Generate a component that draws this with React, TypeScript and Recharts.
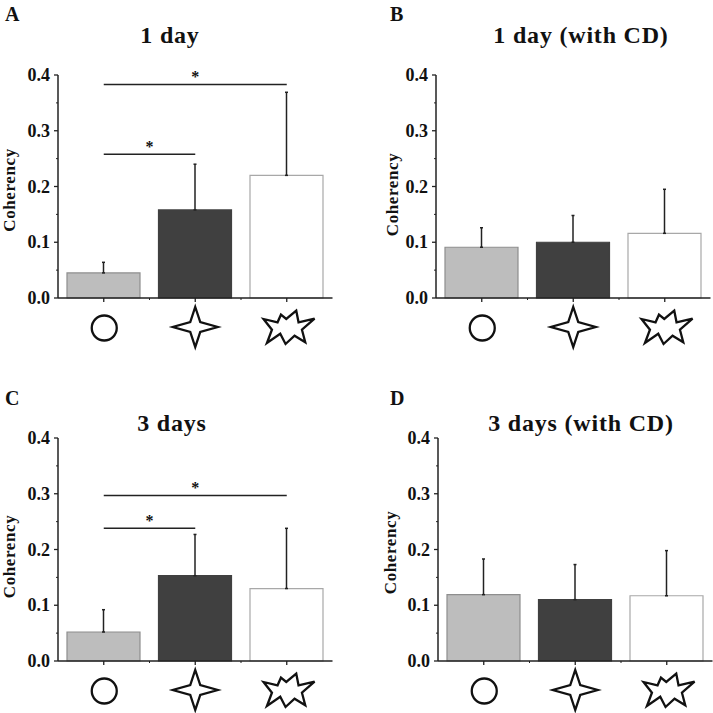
import { Bar, BarChart, Cell, ErrorBar, ReferenceLine, XAxis, YAxis } from 'recharts';

const categories = ['circle', 'star', 'burst'];
const yTicks = [0, 0.05, 0.1, 0.15, 0.2, 0.25, 0.3, 0.35, 0.4];

const means1Day = [0.045, 0.158, 0.22];
const errs1Day = [0.019, 0.082, 0.149];
const means1DayCD = [0.091, 0.1, 0.116];
const errs1DayCD = [0.035, 0.048, 0.079];
const means3Days = [0.052, 0.153, 0.13];
const errs3Days = [0.04, 0.074, 0.108];
const means3DaysCD = [0.119, 0.11, 0.117];
const errs3DaysCD = [0.064, 0.063, 0.081];

const barFills = ['#bdbdbd', '#404040', '#ffffff'];
const barStrokes = ['#8e8e8e', '#404040', '#a8a8a8'];

const SERIF = '"Liberation Serif", serif';
const INK = '#222222';

const STAR = '0,-20 5,-5 22.5,0 5,5 0,20 -5,5 -22.5,0 -5,-5';
const BURST =
  '-23.2,21 -9.2,24.3 -5.8,16.7 -0.5,21 9.5,12.7 11.8,24.3 27.8,20.7 15.2,31.7 18.5,44.3 7.8,37.7 -1.2,46 -6.5,35.7 -19.8,45 -14.8,31.7';

const CategoryTick = ({ x, y, index, payload }: any) => (
  <g>
    <line x1={x} x2={x} y1={y} y2={y + 4} stroke={INK} strokeWidth={1.3} />
    {index < 2 && <line x1={x + 45.75} x2={x + 45.75} y1={y} y2={y + 2} stroke={INK} strokeWidth={1} />}
    <g fill="#fff" stroke="#111" strokeWidth={2.3}>
      {payload.value === 'circle' && <circle cx={x + 0.5} cy={y + 30} r={12.5} />}
      {payload.value === 'star' && <polygon points={STAR} transform={`translate(${x},${y + 29})`} />}
      {payload.value === 'burst' && <polygon points={BURST} transform={`translate(${x},${y})`} />}
    </g>
  </g>
);

const ValueTick = ({ x, y, payload }: any) => {
  const major = Math.round(payload.value * 100) % 10 === 0;
  return (
    <g>
      <line x1={x - (major ? 4 : 2)} x2={x} y1={y} y2={y} stroke={INK} strokeWidth={major ? 1.3 : 1} />
      {major && (
        <text x={x - 8} y={y + 6} textAnchor="end" fontFamily={SERIF} fontWeight="bold" fontSize={18} fill="#111">
          {payload.value.toFixed(1)}
        </text>
      )}
    </g>
  );
};

interface PanelProps {
  letter: string;
  letterLeft: number;
  letterTop: number;
  title: string;
  titleCenter: number;
  titleTop: number;
  left: number;
  top: number;
  labelX: number;
  labelY: number;
  means: number[];
  errs: number[];
  brackets?: { from: string; to: string; y: number }[];
}

const Panel = (p: PanelProps) => {
  const rows = categories.map((name, i) => ({ name, value: p.means[i], err: [0, p.errs[i]] }));
  return (
    <>
      <div style={{ position: 'absolute', left: p.letterLeft, top: p.letterTop, font: `bold 20px ${SERIF}`, color: '#111' }}>
        {p.letter}
      </div>
      <div
        style={{
          position: 'absolute',
          left: p.titleCenter - 150,
          width: 300,
          top: p.titleTop,
          textAlign: 'center',
          font: `bold 24px ${SERIF}`,
          letterSpacing: 0.8,
          color: '#111'
        }}
      >
        {p.title}
      </div>
      <div style={{ position: 'absolute', left: p.left, top: p.top }}>
        <BarChart
          width={334}
          height={356}
          data={rows}
          barSize={73}
          margin={{ top: 75, right: 1.5, bottom: 0, left: 0 }}
        >
          <XAxis
            dataKey="name"
            height={58}
            interval={0}
            tickSize={0}
            tickMargin={0}
            axisLine={{ stroke: INK, strokeWidth: 1.5 }}
            tickLine={false}
            tick={<CategoryTick />}
          />
          <YAxis
            width={58}
            domain={[0, 0.4]}
            ticks={yTicks}
            interval={0}
            tickSize={0}
            tickMargin={0}
            axisLine={{ stroke: INK, strokeWidth: 1.5 }}
            tickLine={false}
            tick={<ValueTick />}
            label={{
              value: 'Coherency',
              angle: -90,
              position: 'insideLeft',
              dx: p.labelX,
              dy: p.labelY,
              style: { fontFamily: SERIF, fontWeight: 'bold', fontSize: 17, letterSpacing: 0.6, fill: '#111', textAnchor: 'middle' }
            }}
          />
          <Bar dataKey="value" strokeWidth={1.2} isAnimationActive={false}>
            {rows.map((_, i) => (
              <Cell key={i} fill={barFills[i]} stroke={barStrokes[i]} />
            ))}
            <ErrorBar dataKey="err" direction="y" width={1.5} stroke={INK} strokeWidth={1.5} isAnimationActive={false} />
          </Bar>
          {(p.brackets || []).map((b, i) => (
            <ReferenceLine
              key={i}
              segment={[
                { x: b.from, y: b.y },
                { x: b.to, y: b.y }
              ]}
              stroke={INK}
              strokeWidth={1.5}
              label={{ value: '*', position: 'center', dy: -8, style: { fontFamily: SERIF, fontWeight: 'bold', fontSize: 16, fill: '#111' } }}
            />
          ))}
        </BarChart>
      </div>
    </>
  );
};

export default function App() {
  return (
    <div style={{ position: 'absolute', left: 0, top: 0, width: 713, height: 713, background: '#fff', overflow: 'hidden' }}>
      <Panel
        letter="A" letterLeft={5} letterTop={3}
        title="1 day" titleCenter={170} titleTop={22}
        left={0} top={0} labelX={4} labelY={3.5}
        means={means1Day} errs={errs1Day}
        brackets={[
          { from: 'circle', to: 'star', y: 0.258 },
          { from: 'circle', to: 'burst', y: 0.383 }
        ]}
      />
      <Panel
        letter="B" letterLeft={390} letterTop={3}
        title="1 day (with CD)" titleCenter={581} titleTop={22}
        left={377.5} top={0} labelX={8.5} labelY={8}
        means={means1DayCD} errs={errs1DayCD}
      />
      <Panel
        letter="C" letterLeft={5} letterTop={387}
        title="3 days" titleCenter={172} titleTop={410}
        left={0} top={362.5} labelX={4} labelY={7}
        means={means3Days} errs={errs3Days}
        brackets={[
          { from: 'circle', to: 'star', y: 0.238 },
          { from: 'circle', to: 'burst', y: 0.297 }
        ]}
      />
      <Panel
        letter="D" letterLeft={390} letterTop={387}
        title="3 days (with CD)" titleCenter={581} titleTop={410}
        left={379.5} top={362.5} labelX={5} labelY={3}
        means={means3DaysCD} errs={errs3DaysCD}
      />
    </div>
  );
}
